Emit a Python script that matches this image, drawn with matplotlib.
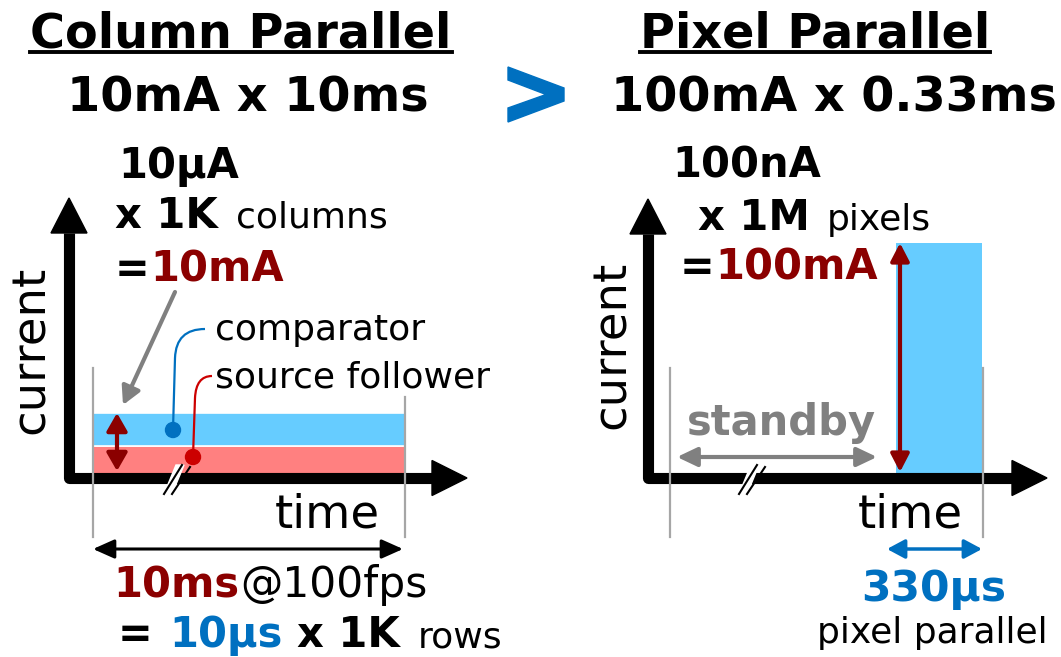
import matplotlib
matplotlib.use('Agg')
import matplotlib.pyplot as plt
from matplotlib.patches import Polygon, Circle, PathPatch
from matplotlib.path import Path

plt.rcParams['font.family'] = ['DejaVu Sans']

# === data ===
# column parallel: two circuits share one row time
col_parts = ['source follower', 'comparator']
col_current_ma = [5, 5]          # stacked, sums to 10 mA
col_start_ms = 0
col_row_time_ms = 10             # whole frame at 100 fps

# pixel parallel: everything at once, short burst
pix_current_ma = [100]
pix_start_ms = 0
pix_time_ms = 0.33

col_colors = ['#FF8080', '#66CCFF']
pix_color = '#66CCFF'

DARKRED = '#8B0000'
BLUE = '#0070C0'
GRAY = '#808080'
LGRAY = '#A6A6A6'

W, H = 1061, 657
fig = plt.figure(figsize=(W / 100, H / 100), dpi=100)


def px_axes(x0, x1, y0, y1):
    # figure axes from pixel box (y counted from top)
    return fig.add_axes([x0 / W, (H - y1) / H, (x1 - x0) / W, (y1 - y0) / H])


# === plot panels (bars in their own data coordinates) ===
ax_l = px_axes(69, 467, 198, 478)
px_per_ms_l = (405 - 93) / col_row_time_ms
px_per_ma_l = 6.5
ax_l.set_xlim(-(93 - 69) / px_per_ms_l, (467 - 93) / px_per_ms_l)
ax_l.set_ylim(0, (478 - 198) / px_per_ma_l)
bottom = 0
for name, cur, col in zip(col_parts, col_current_ma, col_colors):
    ax_l.bar(col_start_ms, cur, width=col_row_time_ms, bottom=bottom, align='edge',
             color=col, edgecolor='white', linewidth=1.2)
    bottom += cur
ax_l.axis('off')

ax_r = px_axes(648, 1047, 198, 478)
px_per_ms_r = (982 - 896) / pix_time_ms
px_per_ma_r = 2.35
ax_r.set_xlim(-(896 - 648) / px_per_ms_r, (1047 - 896) / px_per_ms_r)
ax_r.set_ylim(0, (478 - 198) / px_per_ma_r)
ax_r.bar(pix_start_ms, pix_current_ma[0], width=pix_time_ms, align='edge',
         color=pix_color, linewidth=0)
ax_r.axis('off')

# === overlay in pixel coordinates for drawing / text ===
ax = fig.add_axes([0, 0, 1, 1], zorder=5)
ax.set_xlim(0, W)
ax.set_ylim(H, 0)
ax.axis('off')


def txt(x, y, s, size, bold=False, color='black', **kw):
    return ax.text(x, y, s, fontsize=size, fontweight='bold' if bold else 'normal',
                   color=color, ha=kw.pop('ha', 'left'), va=kw.pop('va', 'baseline'), **kw)


def arrow2(x0, y0, x1, y1, color, lw, hl, hw):
    ax.annotate('', xy=(x1, y1), xytext=(x0, y0),
                arrowprops=dict(arrowstyle='<|-|>,head_length=%g,head_width=%g' % (hl, hw),
                                color=color, lw=lw, shrinkA=0, shrinkB=0, mutation_scale=20))


def arrow1(x0, y0, x1, y1, color, lw, hl, hw):
    ax.annotate('', xy=(x1, y1), xytext=(x0, y0),
                arrowprops=dict(arrowstyle='-|>,head_length=%g,head_width=%g' % (hl, hw),
                                color=color, lw=lw, shrinkA=0, shrinkB=0, mutation_scale=20))


def big_axes(xa, ya, top, right):
    ax.plot([xa, xa, right - 35], [top + 35, ya, ya], color='black', lw=8,
            solid_joinstyle='round', solid_capstyle='butt')
    ax.add_patch(Polygon([(xa - 18, top + 35), (xa + 18, top + 35), (xa, top)],
                         closed=True, color='black'))
    ax.add_patch(Polygon([(right - 35, ya - 17.5), (right - 35, ya + 17.5), (right, ya)],
                         closed=True, color='black'))


def break_mark(x, y):
    ax.add_patch(Polygon([(x - 10, y + 15), (x - 2, y + 15), (x + 10, y - 14), (x + 2, y - 14)],
                         closed=True, color='white', zorder=3))
    ax.plot([x - 10, x + 8], [y + 15, y - 14], color='black', lw=1.5, zorder=4)
    ax.plot([x - 2, x + 16], [y + 15, y - 12], color='black', lw=1.5, zorder=4)


# headline
renderer = fig.canvas.get_renderer()
for cx, s in [(241, 'Column Parallel'), (815, 'Pixel Parallel')]:
    t = txt(cx, 47, s, 34.4, True, ha='center')
    bb = t.get_window_extent(renderer)
    ax.plot([bb.x0, bb.x1], [52, 52], color='black', lw=2.8)
txt(248, 112, '10mA x 10ms', 34.4, True, ha='center')
txt(834, 112, '100mA x 0.33ms', 34.4, True, ha='center')
ax.add_patch(Polygon([(508, 67), (564, 88), (564, 101), (508, 122), (508, 108),
                      (546, 94.5), (508, 80)], closed=True, color=BLUE))

# --- left panel ---
big_axes(69, 478, 198, 467)
txt(44, 350, 'current', 33.5, rotation=90, rotation_mode='anchor', ha='center')
txt(275, 528, 'time', 33.5)
txt(118, 178, '10μA', 30, True)
txt(115, 228, 'x 1K', 30, True)
txt(236, 228, 'columns', 26)
txt(115, 282, '=', 30, True)
txt(150, 282, '10mA', 30, True, DARKRED)
txt(215, 340, 'comparator', 26)
txt(215, 387, 'source follower', 26)

arrow1(175, 292, 123, 405, GRAY, 3, 0.54, 0.29)
arrow2(117, 413, 117, 471, DARKRED, 3, 0.54, 0.31)

# connectors to bands
p = Path([(205, 329), (176, 329), (175, 358), (173, 430)],
         [Path.MOVETO, Path.CURVE3, Path.CURVE3, Path.LINETO])
ax.add_patch(PathPatch(p, fc='none', ec=BLUE, lw=1.6))
ax.add_patch(Circle((173, 430), 7.5, color=BLUE, zorder=4))
p = Path([(212, 376), (196, 376), (195, 398), (193, 457)],
         [Path.MOVETO, Path.CURVE3, Path.CURVE3, Path.LINETO])
ax.add_patch(PathPatch(p, fc='none', ec='#CC0000', lw=1.6))
ax.add_patch(Circle((193, 457), 7.5, color='#CC0000', zorder=4))

break_mark(174, 479)
ax.plot([93, 93], [368, 537], color=LGRAY, lw=1.6, zorder=6)
ax.plot([405, 405], [397, 537], color=LGRAY, lw=1.6, zorder=6)
arrow2(93, 549, 403, 549, 'black', 2.2, 0.65, 0.29)
txt(113, 597, '10ms', 30, True, DARKRED)
txt(240, 597, '@100fps', 30.5)
txt(118, 647, '=', 30, True)
txt(169, 647, '10μs', 30, True, BLUE)
txt(297, 647, 'x 1K', 30, True)
txt(418, 647, 'rows', 26)

# --- right panel ---
big_axes(648, 478, 199, 1047)
txt(625, 345, 'current', 33.5, rotation=90, rotation_mode='anchor', ha='center')
txt(858, 527, 'time', 33.5)
txt(672, 178, '100nA', 30, True)
txt(698, 230, 'x 1M', 30, True)
txt(827, 230, 'pixels', 26)
txt(680, 280, '=', 30, True)
txt(715, 280, '100mA', 30, True, DARKRED)
arrow2(900, 243, 900, 472, DARKRED, 3, 0.54, 0.28)
txt(687, 435, 'standby', 30, True, GRAY)
arrow2(677, 457, 877, 457, GRAY, 3, 0.61, 0.29)
break_mark(749, 479)
ax.plot([670, 670], [368, 537], color=LGRAY, lw=1.6, zorder=6)
ax.plot([983, 983], [368, 537], color=LGRAY, lw=1.6, zorder=6)
arrow2(887, 549, 982, 549, BLUE, 2.5, 0.54, 0.29)
txt(934, 601, '330μs', 30.5, True, BLUE, ha='center')
txt(817, 643, 'pixel parallel', 26)

fig.savefig('out.png', dpi=100, facecolor='white')
